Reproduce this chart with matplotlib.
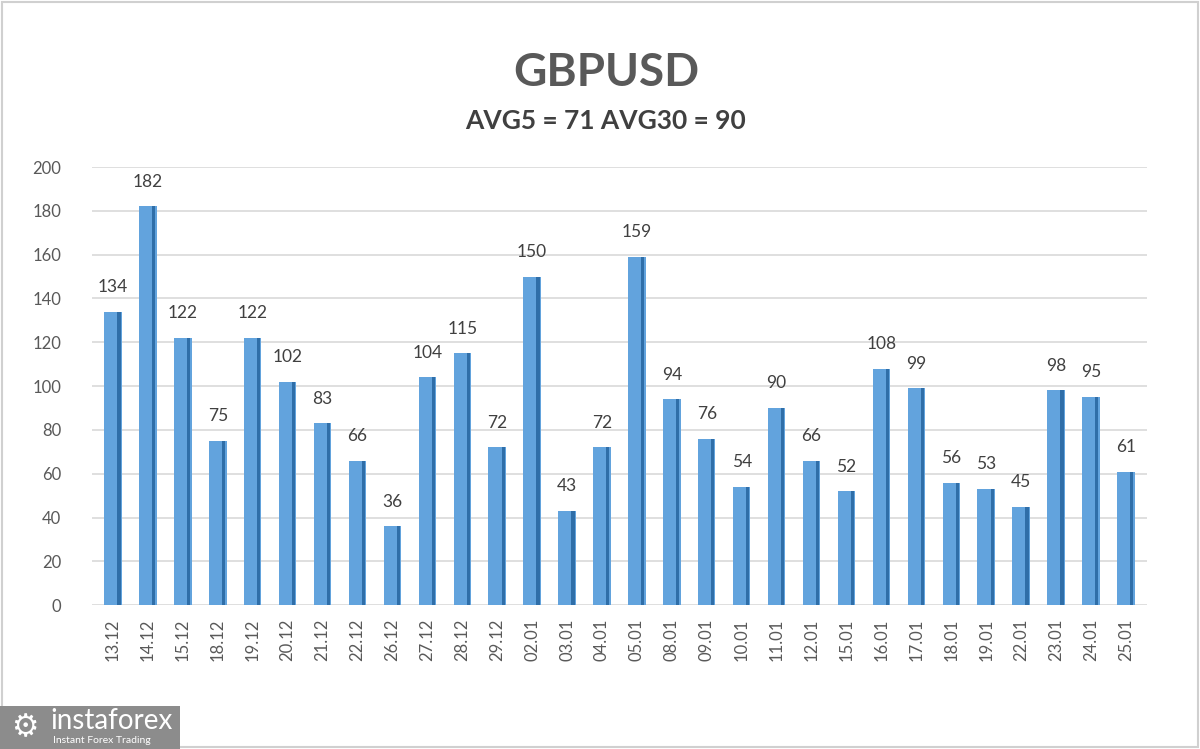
import matplotlib
matplotlib.use("Agg")
import matplotlib.pyplot as plt
from matplotlib.patches import Rectangle

dates = ["13.12", "14.12", "15.12", "18.12", "19.12", "20.12", "21.12", "22.12",
         "26.12", "27.12", "28.12", "29.12", "02.01", "03.01", "04.01", "05.01",
         "08.01", "09.01", "10.01", "11.01", "12.01", "15.01", "16.01", "17.01",
         "18.01", "19.01", "22.01", "23.01", "24.01", "25.01"]
values = [134, 182, 122, 75, 122, 102, 83, 66, 36, 104, 115, 72, 150, 43, 72,
          159, 94, 76, 54, 90, 66, 52, 108, 99, 56, 53, 45, 98, 95, 61]
yticks = [0, 20, 40, 60, 80, 100, 120, 140, 160, 180, 200]

title = "GBPUSD"
subtitle = "AVG5 = 71 AVG30 = 90"

plt.rcParams["font.family"] = ["Lato", "DejaVu Sans"]

fig = plt.figure(figsize=(12, 7.49), dpi=100)
ax = fig.add_axes([0.0767, 0.192, 0.879, 0.585])

x = list(range(len(values)))
# main bar face + darker right side for the 3D look
ax.bar(x, values, width=0.5, color="#62a3dd", zorder=3)
ax.bar([i + 0.17 for i in x], values, width=0.09, color="#2f6ea8", zorder=4)

for i, v in zip(x, values):
    ax.annotate(str(v), (i, v), textcoords="offset points", xytext=(0, 12),
                ha="center", va="bottom", fontsize=12.5, color="#404040")

ax.set_xlim(-0.6, 29.6)
ax.set_ylim(0, 200)
ax.set_yticks(yticks)
ax.set_xticks(x)
ax.set_xticklabels(dates, rotation=90, fontsize=12, color="#595959")
ax.tick_params(axis="y", labelsize=12, labelcolor="#595959", length=0, pad=22)
ax.tick_params(axis="x", length=0, pad=10)
ax.grid(axis="y", color="#d9d9d9", linewidth=1.2, zorder=0)
for s in ax.spines.values():
    s.set_visible(False)

fig.text(0.505, 0.903, title, ha="center", va="center", fontsize=33,
         fontweight="bold", color="#595959")
fig.text(0.505, 0.838, subtitle, ha="center", va="center", fontsize=19,
         fontweight="bold", color="#404040")

# outer frame
fig.patches.append(Rectangle((0.002, 0.003), 0.996, 0.994, transform=fig.transFigure,
                             fill=False, edgecolor="#d0d0d0", linewidth=1.5))
# watermark logo box
fig.patches.append(Rectangle((0.0, 0.0), 0.15, 0.058, transform=fig.transFigure,
                             facecolor="#8c8c8c", edgecolor="none"))
fig.text(0.042, 0.037, "instaforex", ha="left", va="center", fontsize=20,
         color="white")
fig.text(0.044, 0.011, "Instant Forex Trading", ha="left", va="center",
         fontsize=7.5, color="white")
fig.text(0.021, 0.029, "\u2699", ha="center", va="center", fontsize=22,
         color="white", family="DejaVu Sans")

fig.savefig("out.png", dpi=100)
